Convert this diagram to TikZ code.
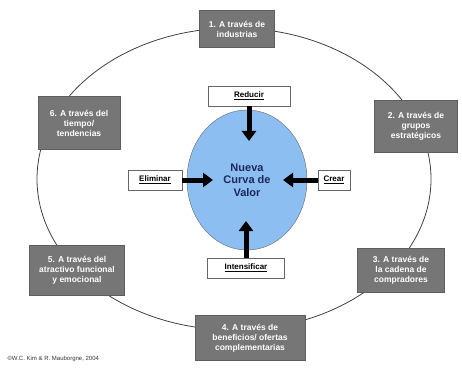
\documentclass[tikz,border=0pt]{standalone}
\usepackage{fontspec}
\setmainfont{Liberation Sans}
\definecolor{gris1}{RGB}{118, 118, 118}
\definecolor{azul1}{RGB}{140, 190, 242}
\definecolor{marino1}{RGB}{28, 40, 90}
\usetikzlibrary{shapes, arrows.meta, positioning, calc}

\tikzset{
  via/.style={draw=gris1!80!black, fill=gris1, text=white, font=\bfseries\fontsize{8.5}{10}\selectfont, align=center, inner sep=2pt},
  accion/.style={draw=black!60, fill=white, font=\bfseries\fontsize{8}{9}\selectfont, inner sep=2.5pt, minimum height=20pt},
  empuje/.style={line width=5pt, -{Triangle[length=10pt, width=14pt]}},
}

\begin{document}
\begin{tikzpicture}[x=1pt, y=1pt]
  \useasboundingbox (0,0) rectangle (462,367);
  % circulo exterior
  \draw[black!75, line width=0.8pt] (234,188) ellipse [x radius=197, y radius=151];

  % seis vias
  \node[via, minimum width=75pt, minimum height=37pt] (i1) at (237,338) {1. A través de\\industrias};
  \node[via, minimum width=83pt, minimum height=52pt] (i2) at (416,241) {2. A través de\\grupos\\estratégicos};
  \node[via, minimum width=87pt, minimum height=44pt] (i3) at (401,97) {3. A través de\\la cadena de\\compradores};
  \node[via, minimum width=110pt, minimum height=45pt] (i4) at (250,29) {4. A través de\\beneficios/ ofertas\\complementarias};
  \node[via, minimum width=95pt, minimum height=50pt] (i5) at (77,97) {5. A través del\\atractivo funcional\\y emocional};
  \node[via, minimum width=82pt, minimum height=53pt] (i6) at (79,244) {6. A través del\\tiempo/\\tendencias};

  % curva de valor
  \node[ellipse, draw=black!60, fill=azul1, minimum width=120pt, minimum height=140pt, text=marino1, font=\bfseries\fontsize{11}{12.5}\selectfont, align=center] (valor) at (247,187) {Nueva\\Curva de\\Valor};

  \node[accion, minimum width=82pt] (reducir) at (249,271) {\underline{Reducir}};
  \node[accion, minimum width=77pt] (intens) at (246,99) {\underline{Intensificar}};
  \node[accion, minimum width=54pt] (elim) at (155,187) {\underline{Eliminar}};
  \node[accion, minimum width=32pt] (crear) at (334,187) {\underline{Crear}};

  \coordinate (pR) at (249,226);
  \coordinate (pI) at (246,146);
  \coordinate (pE) at (213,187);
  \coordinate (pC) at (283,187);
  \draw[empuje] (reducir.south) -- (pR);
  \draw[empuje] (intens.north) -- (pI);
  \draw[empuje] (elim.east) -- (pE);
  \draw[empuje] (crear.west) -- (pC);

  \node[font=\fontsize{6}{7}\selectfont, text=black!80, anchor=west] (fuente) at (4,8) {©W.C. Kim \& R. Mauborgne, 2004};
\end{tikzpicture}
\end{document}
